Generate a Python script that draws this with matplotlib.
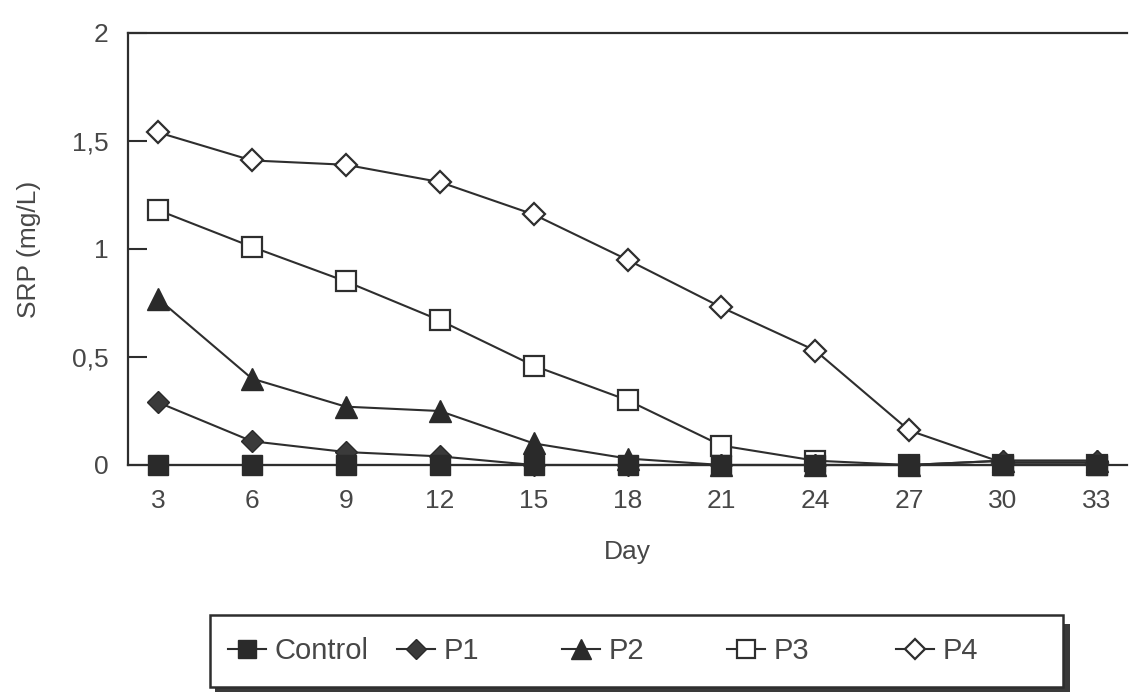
import matplotlib
matplotlib.use("Agg")
import matplotlib.pyplot as plt
from matplotlib.patches import Rectangle

days = ["3", "6", "9", "12", "15", "18", "21", "24", "27", "30", "33"]
control = [0.0, 0.0, 0.0, 0.0, 0.0, 0.0, 0.0, 0.0, 0.0, 0.0, 0.0]
p1 = [0.29, 0.11, 0.06, 0.04, 0.0, 0.0, 0.0, 0.0, 0.0, 0.02, 0.02]
p2 = [0.77, 0.40, 0.27, 0.25, 0.10, 0.03, 0.0, 0.0, 0.0, 0.02, 0.02]
p3 = [1.18, 1.01, 0.85, 0.67, 0.46, 0.30, 0.09, 0.02, 0.0, 0.0, 0.0]
p4 = [1.54, 1.41, 1.39, 1.31, 1.16, 0.95, 0.73, 0.53, 0.16, 0.01, 0.01]
yticks = [0, 0.5, 1, 1.5, 2]
ytick_labels = ["0", "0,5", "1", "1,5", "2"]

plt.rcParams['font.family'] = ['Liberation Sans', 'DejaVu Sans']
ink = "#2e2e2e"
txt = "#474747"
W, H = 1129, 695

fig = plt.figure(figsize=(11.29, 6.95), dpi=100)
ax = fig.add_axes([128/W, 1-465/H, (1127-128)/W, (465-33)/H])

x = list(range(len(days)))
series = [
    ("Control", control, dict(marker="s", ms=14, mfc="#2a2a2a", mec="#2a2a2a"), 6),
    ("P1", p1, dict(marker="D", ms=11, mfc="#3a3a3a", mec="#2a2a2a"), 5),
    ("P2", p2, dict(marker="^", ms=16, mfc="#2a2a2a", mec="#2a2a2a"), 4),
    ("P3", p3, dict(marker="s", ms=14, mfc="white", mec=ink, mew=1.6), 3),
    ("P4", p4, dict(marker="D", ms=11, mfc="white", mec=ink, mew=1.6), 2),
]
handles = []
for name, vals, st, z in series:
    h, = ax.plot(x, vals, color=ink, lw=1.5, label=name, clip_on=False,
                 zorder=z, **st)
    handles.append(h)

ax.set_xlim(-0.32, 10.32)
ax.set_ylim(0, 2)
ax.set_xticks(x)
ax.set_xticklabels(days)
ax.set_yticks(yticks)
ax.set_yticklabels(ytick_labels)
ax.tick_params(axis="x", length=0, pad=17, labelsize=19, labelcolor=txt)
ax.tick_params(axis="y", direction="in", length=14, width=1.5, color=ink,
               pad=14, labelsize=19, labelcolor=txt)
for s in ["left", "top", "bottom"]:
    ax.spines[s].set_color(ink)
    ax.spines[s].set_linewidth(1.6)
ax.spines["right"].set_visible(False)

ax.set_xlabel("Day", fontsize=19, color=txt, labelpad=20)
ax.set_ylabel("SRP (mg/L)", fontsize=19, color=txt, labelpad=22)
ax.patch.set_alpha(0)

# legend box with shadow
fig.patches.append(Rectangle((215/W, 1-692/H), (1070-215)/W, (692-624)/H,
                             transform=fig.transFigure, facecolor="#3a3a3a",
                             edgecolor="none", zorder=0))
fig.patches.append(Rectangle((210/W, 1-687/H), (1063-210)/W, (687-615)/H,
                             transform=fig.transFigure, facecolor="white",
                             edgecolor=ink, lw=1.8, zorder=1))
entry_x = [228, 397, 562, 727, 896]
for h, ex in zip(handles, entry_x):
    lg = fig.legend(handles=[h], loc="center left",
                    bbox_to_anchor=(ex/W, 1-651/H), frameon=False,
                    fontsize=21, handlelength=1.3, handletextpad=0.3,
                    borderaxespad=0, borderpad=0, markerscale=0.9,
                    labelcolor=txt)
    lg.set_zorder(5)

fig.savefig("out.png", dpi=100, facecolor="white")
